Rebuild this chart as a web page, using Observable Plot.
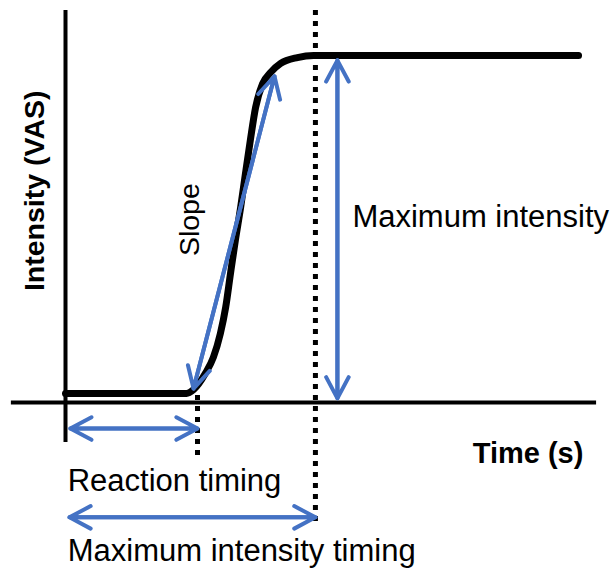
<!DOCTYPE html>
<html>
<head>
<meta charset="utf-8">
<script src="https://cdn.jsdelivr.net/npm/d3@7"></script>
<script src="https://cdn.jsdelivr.net/npm/@observablehq/plot@0.6"></script>
<style>
  html, body { margin: 0; padding: 0; background: #fff; }
  #chart svg { display: block; }
</style>
</head>
<body>
<div id="chart"></div>
<script>
// Schematic response curve (time in s, intensity in VAS units)
const time      = [0, 2.75, 2.91, 3.18, 3.36, 3.52, 3.64, 3.75, 3.86, 3.98, 4.09, 4.20, 4.32, 4.48, 4.66, 4.89, 5.27, 5.64, 11.66];
const intensity = [2.6, 2.6, 3.7, 8.4, 13.0, 19.9, 27.4, 37.2, 46.7, 56.2, 66.0, 75.5, 85.0, 91.9, 95.1, 97.7, 99.4, 100, 100];

// Key timings
const reactionTime = 3.0;
const peakTime = 5.68;
const maxIntensity = 98.6;

// Annotation labels
const labels = ["Intensity (VAS)", "Slope", "Maximum intensity", "Time (s)", "Reaction timing", "Maximum intensity timing"];

const curveData = time.map((t, i) => ({t, v: intensity[i]}));

// Double-headed arrows (data units)
const arrows = [
  {x1: 0.11, y1: -7.5, x2: reactionTime, y2: -7.5},      // reaction timing
  {x1: 0.09, y1: -33.1, x2: peakTime, y2: -33.1},        // maximum intensity timing
  {x1: 6.18, y1: 1.2, x2: 6.18, y2: maxIntensity},       // maximum intensity
  {x1: 2.91, y1: 4.0, x2: 4.75, y2: 94.0}                // slope
];
const arrowsBack = arrows.map(a => ({x1: a.x2, y1: a.y2, x2: a.x1, y2: a.y1}));

const textData = [
  {x: -0.70, y: 61.0, text: labels[0], rotate: -90, bold: true, anchor: "middle", size: 28.5},
  {x: 2.82, y: 52.7, text: labels[1], rotate: -90, bold: false, anchor: "middle", size: 28.5},
  {x: 6.52, y: 53.3, text: labels[2], rotate: 0, bold: false, anchor: "start", size: 31},
  {x: 11.77, y: -14.7, text: labels[3], rotate: 0, bold: true, anchor: "end", size: 29},
  {x: 0.05, y: -22.6, text: labels[4], rotate: 0, bold: false, anchor: "start", size: 31},
  {x: 0.05, y: -42.8, text: labels[5], rotate: 0, bold: false, anchor: "start", size: 31}
];

const blue = "#4472C4";
const arrowOpts = {x1: "x1", y1: "y1", x2: "x2", y2: "y2", stroke: blue, strokeWidth: 4, headLength: 9, headAngle: 56, strokeLinecap: "round", strokeLinejoin: "round"};

function textMark(d) {
  return Plot.text([d], {
    x: "x", y: "y", text: "text",
    rotate: d.rotate, fontSize: d.size, fontWeight: d.bold ? "bold" : "normal",
    textAnchor: d.anchor, fill: "black"
  });
}

const chart = Plot.plot({
  width: 610,
  height: 568,
  margin: 0,
  x: {domain: [0, 12], range: [65, 593], axis: null},
  y: {domain: [0, 100], range: [402, 55], axis: null},
  style: {fontFamily: "'Liberation Sans', Arial, sans-serif", background: "white"},
  marks: [
    // axes
    Plot.ruleX([0], {y1: -11.5, y2: 113, stroke: "black", strokeWidth: 4}),
    Plot.ruleY([0], {x1: -1.23, x2: 12.07, stroke: "black", strokeWidth: 4}),
    // dotted timing markers
    Plot.ruleX([reactionTime], {y1: 2, y2: -15.3, stroke: "black", strokeWidth: 5, strokeDasharray: "5,6"}),
    Plot.ruleX([peakTime], {y1: 113, y2: -34.9, stroke: "black", strokeWidth: 5, strokeDasharray: "5,6"}),
    // response curve
    Plot.line(curveData, {x: "t", y: "v", curve: "monotone-x", stroke: "black", strokeWidth: 7, strokeLinejoin: "round"}),
    // arrows
    Plot.arrow(arrows, arrowOpts),
    Plot.arrow(arrowsBack, arrowOpts),
    // labels
    ...textData.map(textMark)
  ]
});
document.getElementById("chart").appendChild(chart);
</script>
</body>
</html>
